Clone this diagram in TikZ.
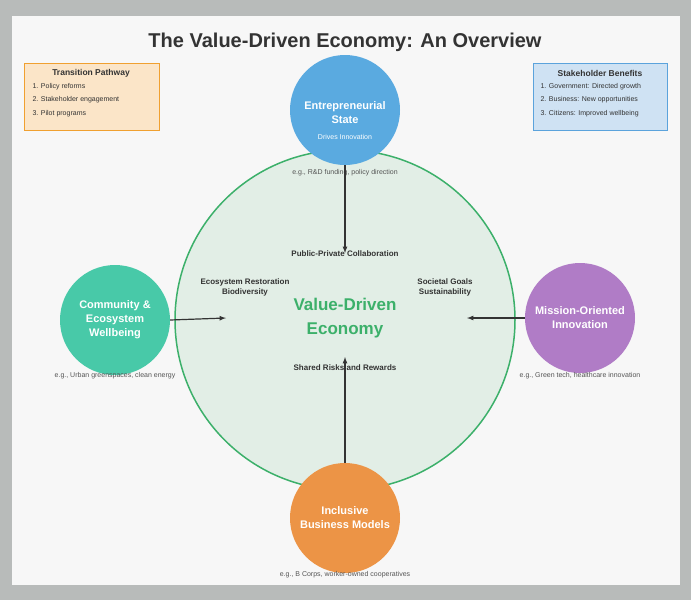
\documentclass[tikz,border=0pt]{standalone}
\usepackage{fontspec}
\setmainfont{Liberation Sans}
\usetikzlibrary{positioning}
\definecolor{bggray}{HTML}{B8BBBA}
\definecolor{panel}{HTML}{F7F7F7}
\definecolor{txt}{HTML}{333333}
\definecolor{capgray}{HTML}{555555}
\definecolor{coreFill}{HTML}{E2EEE6}
\definecolor{coreLine}{HTML}{3CB06A}
\definecolor{stateBlue}{HTML}{5AAAE0}
\definecolor{commTeal}{HTML}{48C9A8}
\definecolor{missPurple}{HTML}{B07CC6}
\definecolor{busOrange}{HTML}{EC9446}
\definecolor{pathFill}{HTML}{FBE5C8}
\definecolor{pathLine}{HTML}{F0A030}
\definecolor{benFill}{HTML}{CFE2F3}
\definecolor{benLine}{HTML}{5BA3DC}
\tikzset{
  pillar/.style={circle, minimum size=110pt, inner sep=0pt, align=center, text=white,
    font=\fontsize{11}{14}\selectfont\bfseries},
  caption/.style={text=capgray, font=\fontsize{7}{8}\selectfont},
  inner/.style={text=txt, align=center, font=\fontsize{8}{10}\selectfont\bfseries},
  boxhead/.style={text=txt, font=\fontsize{8.5}{10}\selectfont\bfseries},
  boxitem/.style={text=txt, anchor=west, font=\fontsize{7}{8}\selectfont},
  flow/.style={->, >=latex, line width=1.2pt, draw=txt},
}
\begin{document}
\begin{tikzpicture}[x=1pt,y=-1pt]
	\fill[bggray] (0,0) rectangle (691,600);
	\fill[panel] (12,16) rectangle (680,585);
	\useasboundingbox (0,0) rectangle (691,600);

	\node[text=txt, font=\fontsize{20}{24}\selectfont\bfseries] (title) at (345,42) {The Value-Driven Economy: An Overview};

	% side boxes
	\draw[pathLine, fill=pathFill, line width=1pt] (24,63) rectangle (159,130);
	\node[boxhead] (pathhead) at (91,73) {Transition Pathway};
	\node[boxitem] (p1) at (29,87) {1. Policy reforms};
	\node[boxitem] (p2) at (29,100) {2. Stakeholder engagement};
	\node[boxitem] (p3) at (29,114) {3. Pilot programs};

	\draw[benLine, fill=benFill, line width=1pt] (533,63) rectangle (667,130);
	\node[boxhead] (benhead) at (600,73) {Stakeholder Benefits};
	\node[boxitem] (b1) at (537,87) {1. Government: Directed growth};
	\node[boxitem] (b2) at (537,100) {2. Business: New opportunities};
	\node[boxitem] (b3) at (537,114) {3. Citizens: Improved wellbeing};

	% core
	\node[circle, minimum size=340pt, inner sep=0pt, fill=coreFill, draw=coreLine, line width=1.5pt] (core) at (345,320) {};
	\node[text=coreLine, align=center, font=\fontsize{17}{24}\selectfont\bfseries] (corelabel) at (345,318) {Value-Driven\\Economy};
	\node[inner] (ppc) at (345,254) {Public-Private Collaboration};
	\node[inner] (eco) at (245,287) {Ecosystem Restoration\\Biodiversity};
	\node[inner] (soc) at (445,287) {Societal Goals\\Sustainability};
	\node[inner] (srr) at (345,368) {Shared Risks and Rewards};

	% pillars
	\node[pillar, fill=stateBlue] (state) at (345,110) {};
	\node[pillar, text=white, align=center] at (345,113) {Entrepreneurial\\State};
	\node[text=white, font=\fontsize{7}{8}\selectfont] (statesub) at (345,137) {Drives Innovation};
	\node[caption] (statecap) at (345,173) {e.g., R\&D funding, policy direction};

	\node[pillar, fill=commTeal] (comm) at (115,320) {Community \&\\Ecosystem\\Wellbeing};
	\node[caption] (commcap) at (115,376) {e.g., Urban greenspaces, clean energy};

	\node[pillar, fill=missPurple] (miss) at (580,318) {Mission-Oriented\\Innovation};
	\node[caption] (misscap) at (580,376) {e.g., Green tech, healthcare innovation};

	\node[pillar, fill=busOrange] (bus) at (345,518) {Inclusive\\Business Models};
	\node[caption] (buscap) at (345,575) {e.g., B Corps, worker-owned cooperatives};

	% flows into the core
	\coordinate (intop) at (345,253);
	\coordinate (inleft) at (226,318);
	\coordinate (inright) at (467,318);
	\coordinate (inbot) at (345,357);
	\draw[flow] (state.south) -- (intop);
	\draw[flow] (comm.east) -- (inleft);
	\draw[flow] (miss.west) -- (inright);
	\draw[flow] (bus.north) -- (inbot);
\end{tikzpicture}
\end{document}
